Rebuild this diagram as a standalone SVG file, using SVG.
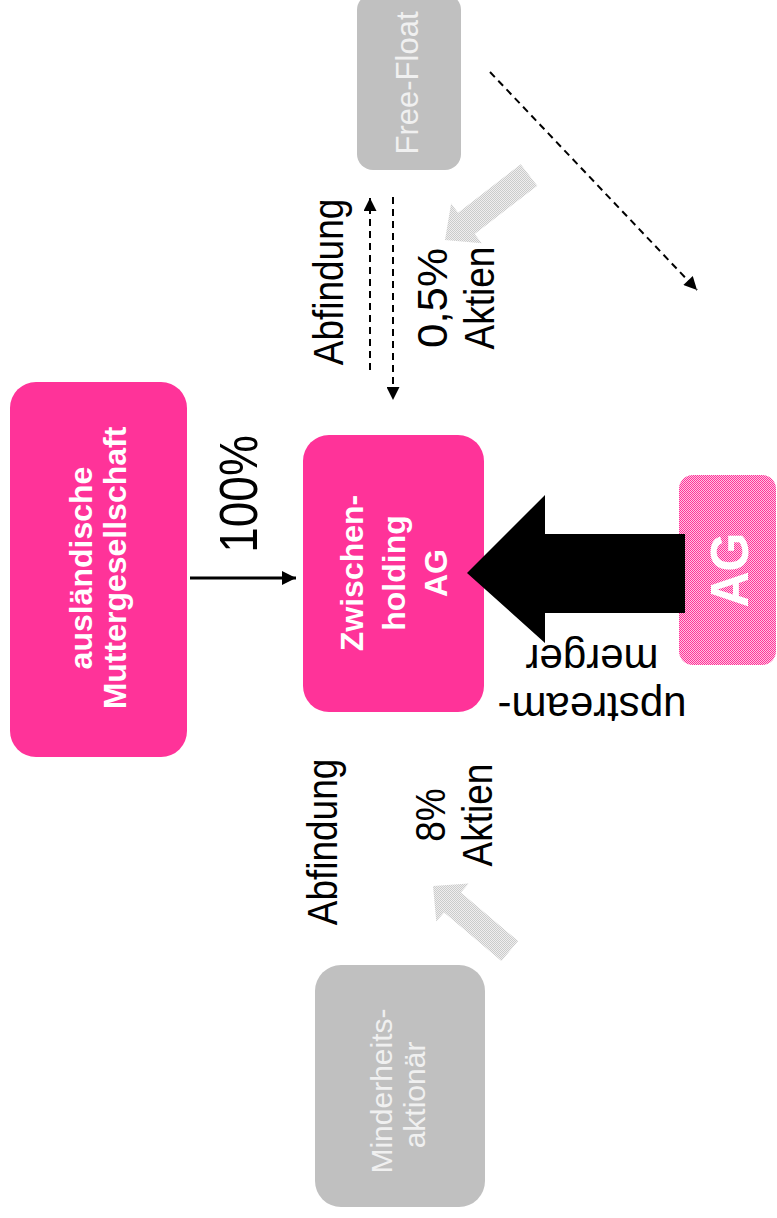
<svg xmlns="http://www.w3.org/2000/svg" width="777" height="1218" viewBox="0 0 777 1218">
<defs>
<style>
.t{font-family:"Liberation Sans",Arial,sans-serif;}
.lbl{fill:#000;text-anchor:middle;}
.nt{font-weight:bold;fill:#fff;text-anchor:middle;}
.gt{fill:#f0f0f0;text-anchor:middle;}
.pink{fill:#ff3399;}
.gray{fill:#c0c0c0;}
.dash{stroke:#000;stroke-width:2;stroke-dasharray:7 5;fill:none;}
</style>
<pattern id="pinkHatch" width="2" height="2" patternUnits="userSpaceOnUse">
<rect width="2" height="2" fill="#ffc2e0"/>
<rect width="1" height="1" fill="#ff3399"/>
<rect x="1" y="1" width="1" height="1" fill="#ff3399"/>
</pattern>
<pattern id="grayHatch" width="2" height="2" patternUnits="userSpaceOnUse">
<rect width="2" height="2" fill="#efefef"/>
<rect width="1" height="1" fill="#cbcbcb"/>
<rect x="1" y="1" width="1" height="1" fill="#cbcbcb"/>
</pattern>
<marker id="ah" viewBox="0 0 10 10" refX="10" refY="5" markerUnits="userSpaceOnUse" markerWidth="16" markerHeight="14" orient="auto">
<path d="M0,0 L10,5 L0,10 z" fill="#000"/>
</marker>
<marker id="ahs" viewBox="0 0 10 10" refX="10" refY="5" markerUnits="userSpaceOnUse" markerWidth="16" markerHeight="13" orient="auto">
<path d="M0,0 L10,5 L0,10 z" fill="#000"/>
</marker>
</defs>
<rect width="777" height="1218" fill="#fff"/>

<g id="node-freefloat">
<rect x="357" y="-6" width="104" height="176" rx="16" class="gray"/>
<text class="t gt" style="font-size:31px" transform="translate(418,83) rotate(-90)">Free-Float</text>
</g>

<g id="node-mutter">
<rect x="10" y="382" width="177" height="375" rx="26" class="pink"/>
<text class="t nt" style="font-size:32px" transform="translate(92,568) rotate(-90)">ausländische</text>
<text class="t nt" style="font-size:32px" transform="translate(126,568) rotate(-90)">Muttergesellschaft</text>
</g>

<g id="node-zwischenholding">
<rect x="303" y="435" width="181" height="277" rx="26" class="pink"/>
<text class="t nt" style="font-size:32px" transform="translate(363,573) rotate(-90)">Zwischen-</text>
<text class="t nt" style="font-size:32px" transform="translate(405,573) rotate(-90)">holding</text>
<text class="t nt" style="font-size:32px" transform="translate(447,573) rotate(-90)">AG</text>
</g>

<g id="node-ag">
<rect x="679" y="475" width="97" height="190" rx="14" fill="url(#pinkHatch)"/>
<text class="t nt" style="font-size:50px" transform="translate(748,570) rotate(-90) scale(1,1.06)">AG</text>
</g>

<g id="node-minderheit">
<rect x="315" y="965" width="170" height="242" rx="26" class="gray"/>
<text class="t gt" style="font-size:30px" transform="translate(392,1091) rotate(-90)">Minderheits-</text>
<text class="t gt" style="font-size:30px" transform="translate(425,1095) rotate(-90)">aktionär</text>
</g>

<g id="connectors">
<line x1="190" y1="578" x2="296" y2="578" stroke="#000" stroke-width="3" marker-end="url(#ah)"/>
<line x1="370" y1="370" x2="370" y2="198" class="dash" marker-end="url(#ahs)"/>
<line x1="393" y1="197" x2="393" y2="400" class="dash" marker-end="url(#ahs)"/>
<line x1="490" y1="72" x2="697" y2="290" class="dash" marker-end="url(#ahs)"/>
<polygon points="520.7,164.3 458.1,212.7 451.1,203.6 445,240 481.7,243.2 474.7,234.1 537.3,185.7" fill="url(#grayHatch)"/>
<polygon points="433,886 468.7,883.4 460.9,892.6 518.2,941.1 501.4,960.9 444.1,912.4 436.3,921.6" fill="url(#grayHatch)"/>
<polygon points="467,573 545,495 545,534 685,534 685,613 545,613 545,643" fill="#000"/>
</g>

<g id="labels">
<text class="t lbl" style="font-size:46px" transform="translate(257,494) rotate(-90) scale(1,1.17)">100%</text>
<text class="t lbl" style="font-size:37px" transform="translate(343,282) rotate(-90) scale(1,1.16)">Abfindung</text>
<text class="t lbl" style="font-size:37px" transform="translate(447,298) rotate(-90) scale(1,1.16)" textLength="100" lengthAdjust="spacingAndGlyphs">0,5%</text>
<text class="t lbl" style="font-size:37px" transform="translate(494,298) rotate(-90) scale(1,1.16)">Aktien</text>
<text class="t lbl" style="font-size:37px" transform="translate(337,842) rotate(-90) scale(1,1.16)">Abfindung</text>
<text class="t lbl" style="font-size:37px" transform="translate(445,815) rotate(-90) scale(1,1.16)">8%</text>
<text class="t lbl" style="font-size:37px" transform="translate(492,815) rotate(-90) scale(1,1.16)">Aktien</text>
<g transform="translate(592,693) rotate(180)">
<text class="t lbl" style="font-size:42px" x="0" y="0">upstream-</text>
<text class="t lbl" style="font-size:42px" x="0" y="48">merger</text>
</g>
</g>
</svg>
